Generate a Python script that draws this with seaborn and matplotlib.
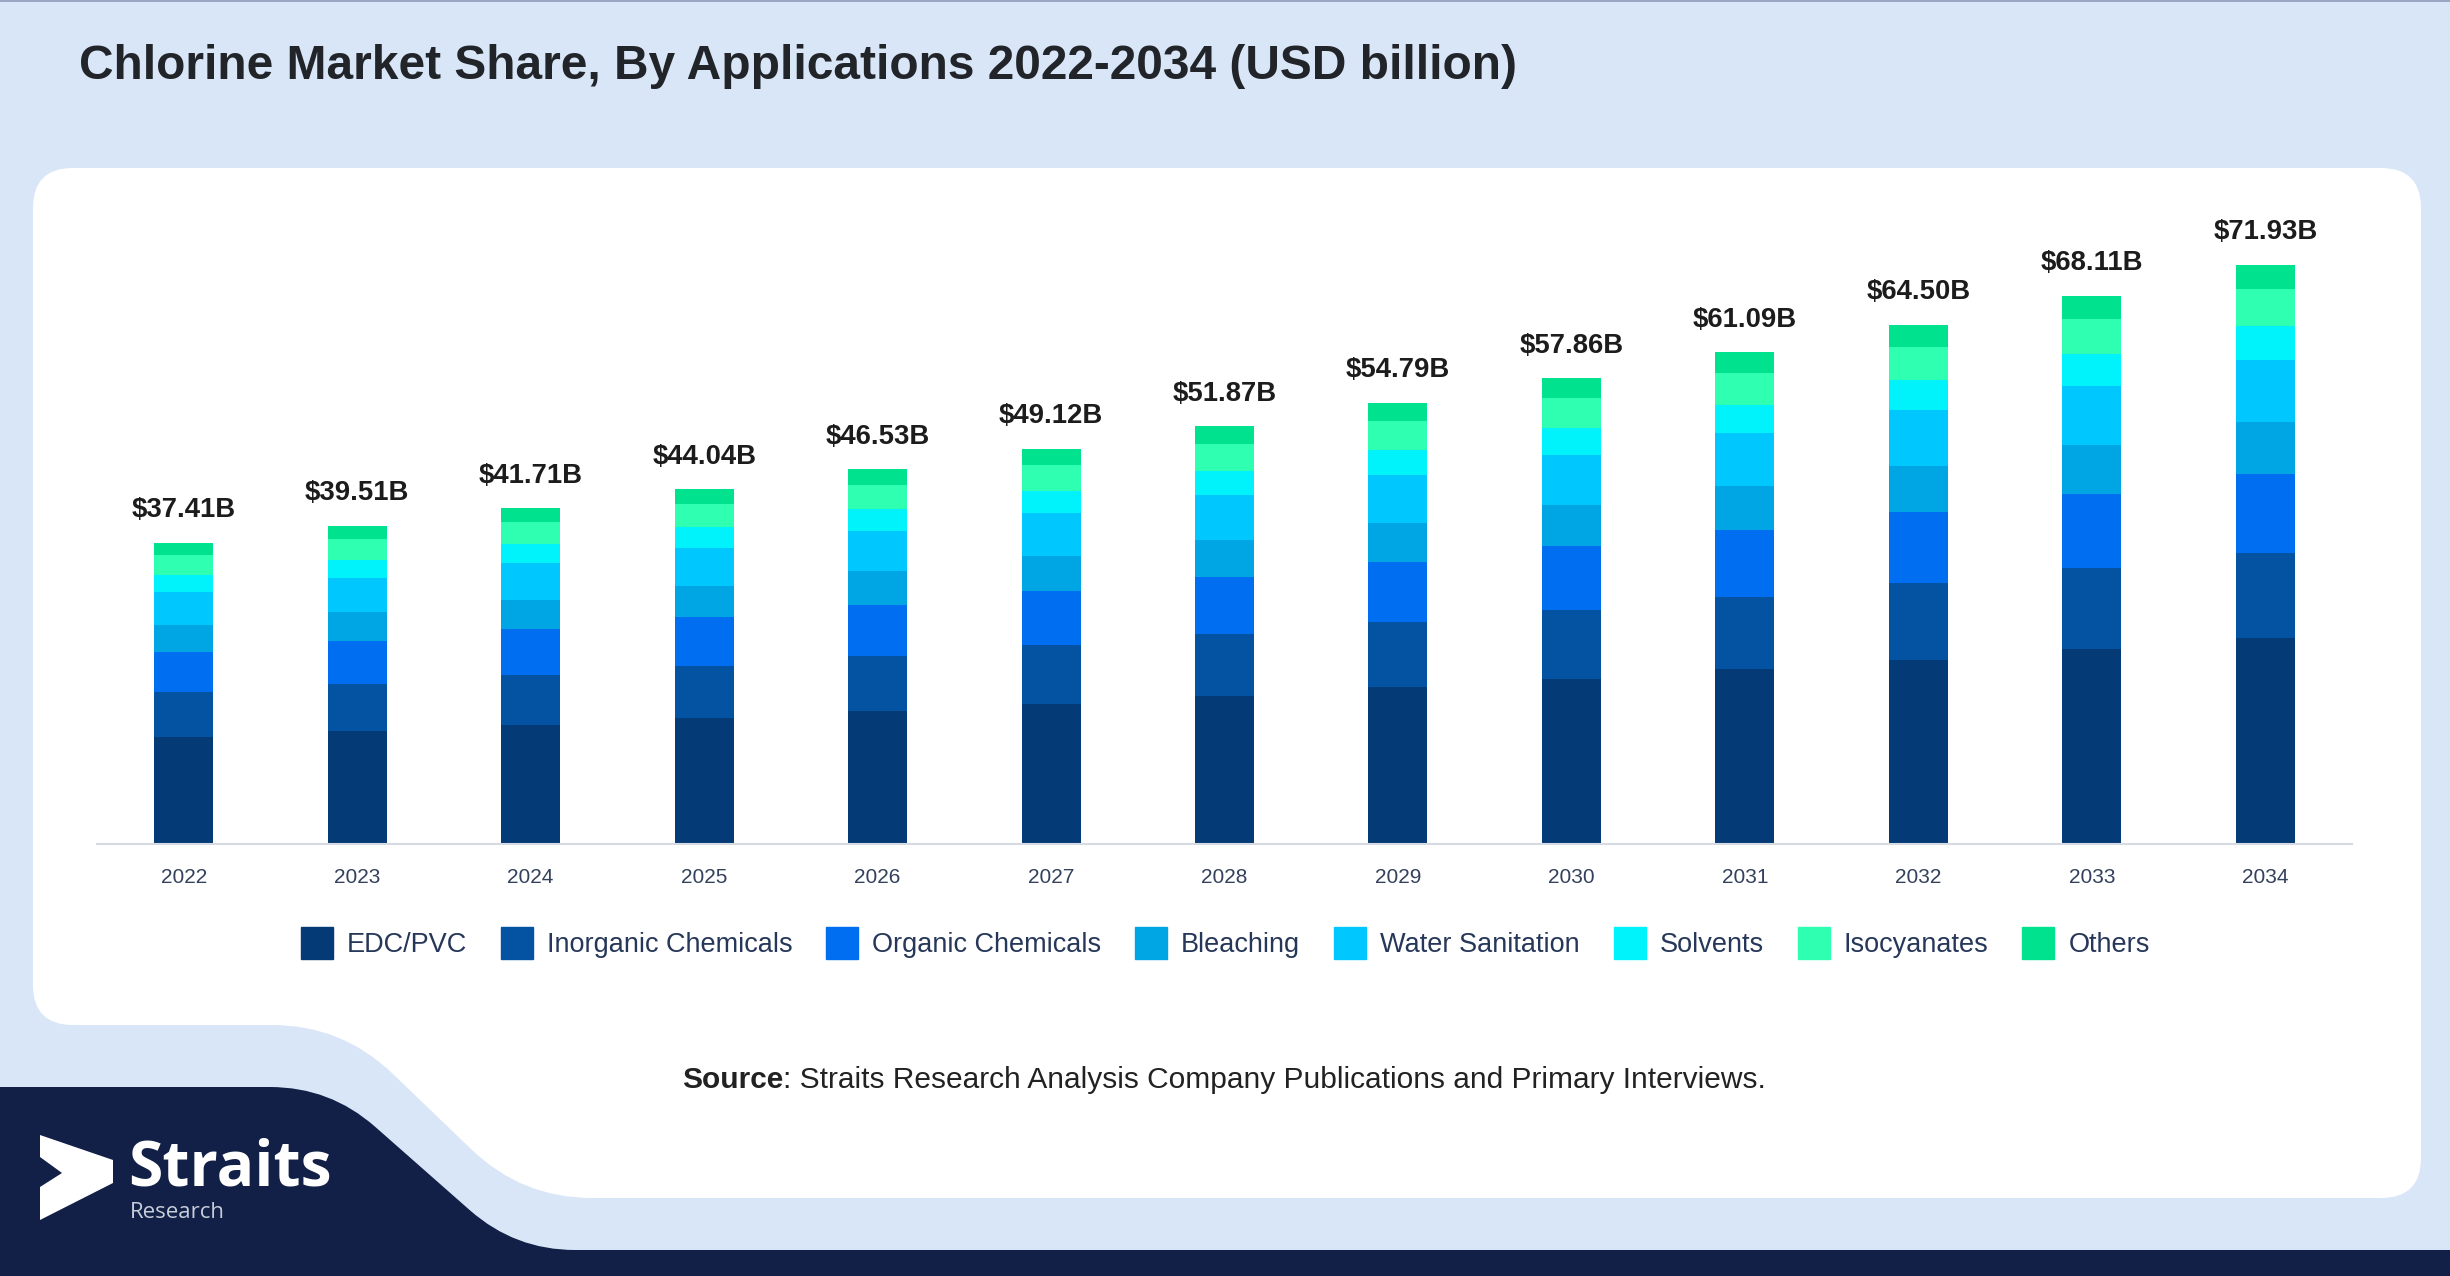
import numpy as np
import matplotlib
matplotlib.use("Agg")
import matplotlib.pyplot as plt
import seaborn as sb
from matplotlib.path import Path
from matplotlib.patches import PathPatch, Polygon, Rectangle
from matplotlib.lines import Line2D

# data (USD billion)
years = ["2022", "2023", "2024", "2025", "2026", "2027", "2028",
         "2029", "2030", "2031", "2032", "2033", "2034"]
segments = ["EDC/PVC", "Inorganic Chemicals", "Organic Chemicals", "Bleaching",
            "Water Sanitation", "Solvents", "Isocyanates", "Others"]
edc_pvc = [13.28, 14.03, 14.81, 15.63, 16.52, 17.44, 18.41, 19.45, 20.54, 21.69, 22.90, 24.18, 25.55]
inorganic = [5.54, 5.85, 6.17, 6.52, 6.89, 7.27, 7.68, 8.11, 8.56, 9.04, 9.55, 10.08, 10.66]
organic = [5.09, 5.37, 5.67, 5.99, 6.33, 6.68, 7.05, 7.45, 7.87, 8.31, 8.77, 9.26, 9.78]
bleaching = [3.33, 3.52, 3.71, 3.92, 4.14, 4.37, 4.62, 4.88, 5.15, 5.44, 5.74, 6.06, 6.46]
water = [4.04, 4.27, 4.50, 4.76, 5.03, 5.30, 5.60, 5.92, 6.25, 6.60, 6.97, 7.36, 7.70]
solvents = [2.13, 2.25, 2.38, 2.51, 2.65, 2.80, 2.96, 3.12, 3.30, 3.48, 3.68, 3.88, 4.17]
isocyanates = [2.43, 2.57, 2.71, 2.86, 3.02, 3.19, 3.37, 3.56, 3.76, 3.97, 4.19, 4.43, 4.67]
others = [1.57, 1.65, 1.76, 1.85, 1.95, 2.07, 2.18, 2.30, 2.43, 2.56, 2.70, 2.86, 2.94]
totals = [37.41, 39.51, 41.71, 44.04, 46.53, 49.12, 51.87, 54.79, 57.86, 61.09, 64.50, 68.11, 71.93]

colors = ["#043a75", "#0452a2", "#006ef0", "#00a5e3", "#00c8ff", "#00f2fb", "#2fffb0", "#00e28e"]
series = [edc_pvc, inorganic, organic, bleaching, water, solvents, isocyanates, others]

sb.set_theme(style="white")
plt.rcParams['font.family'] = ['Liberation Sans', 'DejaVu Sans']

W, H = 2450, 1276
fig = plt.figure(figsize=(W / 100, H / 100), dpi=100)
fig.patch.set_facecolor("#d9e6f8")

# background shapes, pixel coords (y down)
bg = fig.add_axes([0, 0, 1, 1], zorder=0)
bg.set_xlim(0, W)
bg.set_ylim(H, 0)
bg.axis("off")


def rounded(pts, radii):
    verts, codes = [], []
    n = len(pts)
    for i in range(n):
        p0, p1, p2 = np.array(pts[i - 1], float), np.array(pts[i], float), np.array(pts[(i + 1) % n], float)
        r = radii[i]
        a = p1 + (p0 - p1) / np.linalg.norm(p0 - p1) * r
        b = p1 + (p2 - p1) / np.linalg.norm(p2 - p1) * r
        verts += [a, p1, b]
        codes += [Path.MOVETO if i == 0 else Path.LINETO, Path.CURVE3, Path.CURVE3]
    verts.append(verts[0])
    codes.append(Path.CLOSEPOLY)
    return Path(verts, codes)


bg.add_patch(Rectangle((0, 0), W, 2, color="#9aa6c4", lw=0))
card = [(33, 168), (2421, 168), (2421, 1198), (522, 1198), (342, 1025), (33, 1025)]
bg.add_patch(PathPatch(rounded(card, [40, 40, 40, 70, 70, 40]), facecolor="white", lw=0))
navy = [(0, 1087), (330, 1087), (515, 1250), (W, 1250), (W, H + 5), (0, H + 5)]
bg.add_patch(PathPatch(rounded(navy, [0, 60, 60, 0, 0, 0]), facecolor="#121f46", lw=0))

# logo
arrow = [(40, 1135), (113, 1160), (113, 1183), (40, 1220), (40, 1187), (62, 1173), (40, 1157)]
bg.add_patch(Polygon(arrow, closed=True, facecolor="white", lw=0))
bg.text(128, 1185, "Straits", color="white", fontsize=45, fontweight="bold",
        family=["Open Sans", "DejaVu Sans"], va="baseline", ha="left")
bg.text(130, 1218, "Research", color="#c9cedb", fontsize=16,
        family=["Open Sans", "DejaVu Sans"], va="baseline", ha="left")

# title and source
bg.text(79, 79, "Chlorine Market Share, By Applications 2022-2034 (USD billion)",
        fontsize=34.5, fontweight="bold", color="#212529", va="baseline", ha="left")
src = bg.text(682, 1088, "Source", fontsize=21.5, fontweight="bold", color="#222222",
              va="baseline", ha="left")
bg.annotate(": Straits Research Analysis Company Publications and Primary Interviews.",
            xy=(1, 0), xycoords=src, xytext=(0, 0), textcoords="offset points",
            fontsize=21.5, color="#222222", va="bottom", ha="left")

# chart
ax = fig.add_axes([97 / W, (H - 844) / H, (2352 - 97) / W, 644 / H], zorder=1)
ax.set_facecolor("none")

cum = np.cumsum(np.array(series), axis=0)
for k in range(len(segments) - 1, -1, -1):
    sb.barplot(x=years, y=cum[k], order=years, color=colors[k], width=0.34,
               saturation=1, ax=ax, linewidth=0)

for i, t in enumerate(totals):
    ax.annotate(f"${t:.2f}B", (i, cum[-1][i]), xytext=(0, 23.5), textcoords="offset points",
                ha="center", va="center", fontsize=19.8, fontweight="bold", color="#1c1c1c")

ax.set_ylim(0, 80)
ax.set_xlim(-0.5, len(years) - 0.5)
ax.set_yticks([])
ax.set_xlabel("")
ax.set_ylabel("")
for s in ["top", "right", "left"]:
    ax.spines[s].set_visible(False)
ax.spines["bottom"].set_color("#d5dae3")
ax.spines["bottom"].set_linewidth(1.5)
ax.tick_params(axis="x", length=0, pad=17, labelsize=15, labelcolor="#34415c")

handles = [Line2D([], [], marker="s", linestyle="none", markersize=23,
                  markerfacecolor=c, markeredgecolor=c) for c in colors]
fig.legend(handles, segments, loc="center", bbox_to_anchor=(0.5, (H - 945) / H), ncol=8,
           frameon=False, fontsize=19.5, handlelength=1.2, handletextpad=0.5,
           columnspacing=1.25, labelcolor="#263759")

plt.savefig("out.png", dpi=100)
